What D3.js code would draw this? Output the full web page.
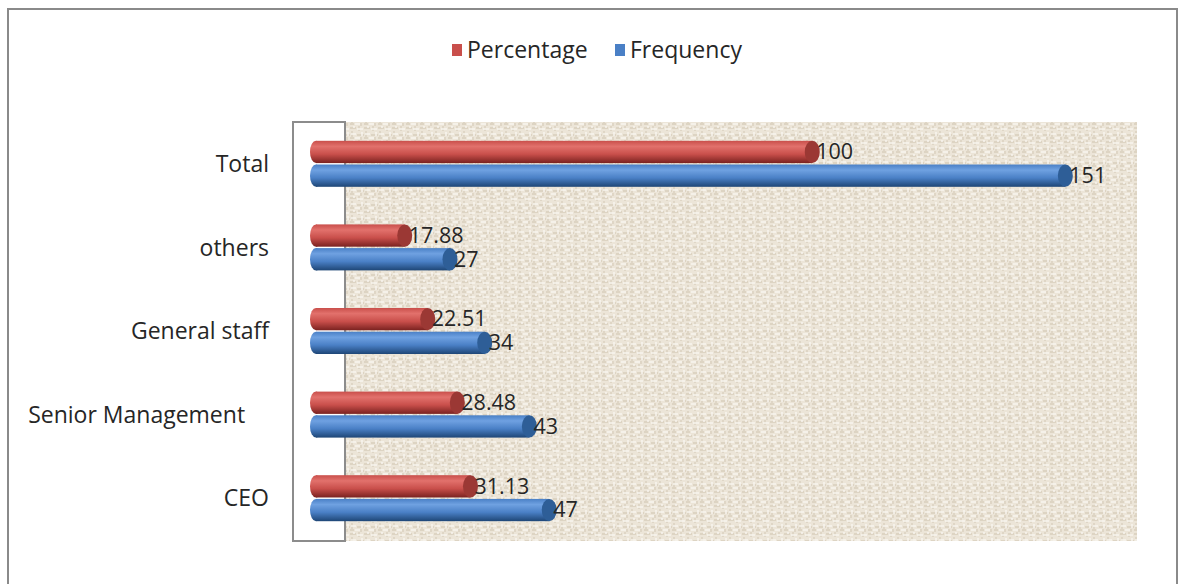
<!DOCTYPE html>
<html>
<head>
<meta charset="utf-8">
<script src="https://cdn.jsdelivr.net/npm/d3@7"></script>
<style>
  body { margin: 0; background: #fff; }
  text { font-family: "Open Sans", "Noto Sans", sans-serif; fill: #262626; }
</style>
</head>
<body>
<div id="chart"></div>
<script>
var categories = ["CEO", "Senior Management\u00a0\u00a0\u00a0\u00a0", "General staff", "others", "Total"];
var seriesNames = ["Percentage", "Frequency"];
var percentage = [31.13, 28.48, 22.51, 17.88, 100];
var frequency = [47, 43, 34, 27, 151];

var width = 1178,
    height = 584;

var svg = d3.select("#chart").append("svg")
    .attr("width", width)
    .attr("height", height);

var defs = svg.append("defs");

// canvas-like texture for the back wall
var pat = defs.append("pattern")
    .attr("id", "weave")
    .attr("patternUnits", "userSpaceOnUse")
    .attr("width", 14)
    .attr("height", 14);
pat.append("rect").attr("width", 14).attr("height", 14).attr("fill", "#ece5d8");
pat.append("path").attr("d", "M0,2h6M7,9h7M2,5v6M9,0v5M0,12h4M11,11v3")
    .attr("stroke", "#d9cfbd").attr("stroke-width", 1.3);
pat.append("path").attr("d", "M7,3h6M1,8h5M12,6v4M4,0v2M5,12h5")
    .attr("stroke", "#f8f5ef").attr("stroke-width", 1.5);

var colors = {
  Percentage: {light: "#e2716c", mid: "#c94f4b", dark: "#7a2220", cap: "#9b3834"},
  Frequency: {light: "#6fa1e1", mid: "#4a80c6", dark: "#1e4676", cap: "#2e5e97"}
};

seriesNames.forEach(function(s) {
  var g = defs.append("linearGradient")
      .attr("id", "grad-" + s)
      .attr("x1", 0).attr("y1", 0).attr("x2", 0).attr("y2", 1);
  g.append("stop").attr("offset", "0%").attr("stop-color", colors[s].mid);
  g.append("stop").attr("offset", "25%").attr("stop-color", colors[s].light);
  g.append("stop").attr("offset", "60%").attr("stop-color", colors[s].mid);
  g.append("stop").attr("offset", "100%").attr("stop-color", colors[s].dark);
});

// outer chart border
svg.append("rect")
    .attr("x", 8).attr("y", 9)
    .attr("width", 1169).attr("height", 600)
    .attr("fill", "#fff")
    .attr("stroke", "#8a8a8a")
    .attr("stroke-width", 2);

// back wall + side wall
svg.append("rect")
    .attr("x", 345).attr("y", 122)
    .attr("width", 792).attr("height", 419)
    .attr("fill", "url(#weave)");

svg.append("rect")
    .attr("x", 293).attr("y", 122)
    .attr("width", 52).attr("height", 419)
    .attr("fill", "#fff")
    .attr("stroke", "#8c8c8c")
    .attr("stroke-width", 2);

var x = d3.scaleLinear()
    .domain([0, 160])
    .range([316, 1110]);

var y = d3.scaleBand()
    .domain(categories.slice().reverse())
    .range([122, 540]);

var ySub = d3.scaleBand()
    .domain(seriesNames)
    .range([y.bandwidth() / 2 - 23, y.bandwidth() / 2 + 23])
    .paddingInner(0.06);

var data = categories.map(function(c, i) {
  return {cat: c, values: [
    {key: "Percentage", value: percentage[i]},
    {key: "Frequency", value: frequency[i]}
  ]};
});

var groups = svg.append("g").selectAll("g")
  .data(data)
  .enter().append("g")
    .attr("transform", function(d) { return "translate(0," + y(d.cat) + ")"; });

var bars = groups.selectAll("g.bar")
  .data(function(d) { return d.values; })
  .enter().append("g")
    .attr("class", "bar");

var h = ySub.bandwidth();

bars.append("ellipse")
    .attr("cx", x(0))
    .attr("cy", function(d) { return ySub(d.key) + h / 2; })
    .attr("rx", 6)
    .attr("ry", h / 2)
    .attr("fill", function(d) { return "url(#grad-" + d.key + ")"; });

bars.append("rect")
    .attr("x", x(0))
    .attr("y", function(d) { return ySub(d.key); })
    .attr("width", function(d) { return x(d.value) - x(0); })
    .attr("height", h)
    .attr("fill", function(d) { return "url(#grad-" + d.key + ")"; });

bars.append("ellipse")
    .attr("cx", function(d) { return x(d.value); })
    .attr("cy", function(d) { return ySub(d.key) + h / 2; })
    .attr("rx", 7.5)
    .attr("ry", h / 2)
    .attr("fill", function(d) { return colors[d.key].cap; });

bars.append("text")
    .attr("x", function(d) { return x(d.value) + 4; })
    .attr("y", function(d) { return ySub(d.key) + h / 2; })
    .attr("dy", "0.34em")
    .attr("font-size", 21.5)
    .text(function(d) { return String(d.value); });

// category labels
svg.append("g").selectAll("text")
  .data(categories)
  .enter().append("text")
    .attr("x", 269)
    .attr("y", function(d) { return y(d) + y.bandwidth() / 2; })
    .attr("dy", "0.36em")
    .attr("text-anchor", "end")
    .attr("font-size", 23)
    .text(function(d) { return d; });

// legend
var legendX = d3.scalePoint().domain(seriesNames).range([452, 615]);

var legend = svg.append("g").selectAll("g")
  .data(seriesNames)
  .enter().append("g")
    .attr("transform", function(d) { return "translate(" + legendX(d) + ",50)"; });

legend.append("rect")
    .attr("x", 0).attr("y", -6)
    .attr("width", 10).attr("height", 12)
    .attr("fill", function(d) { return colors[d].mid; });

legend.append("text")
    .attr("x", 15)
    .attr("dy", "0.36em")
    .attr("font-size", 23)
    .text(function(d) { return d; });
</script>
</body>
</html>
